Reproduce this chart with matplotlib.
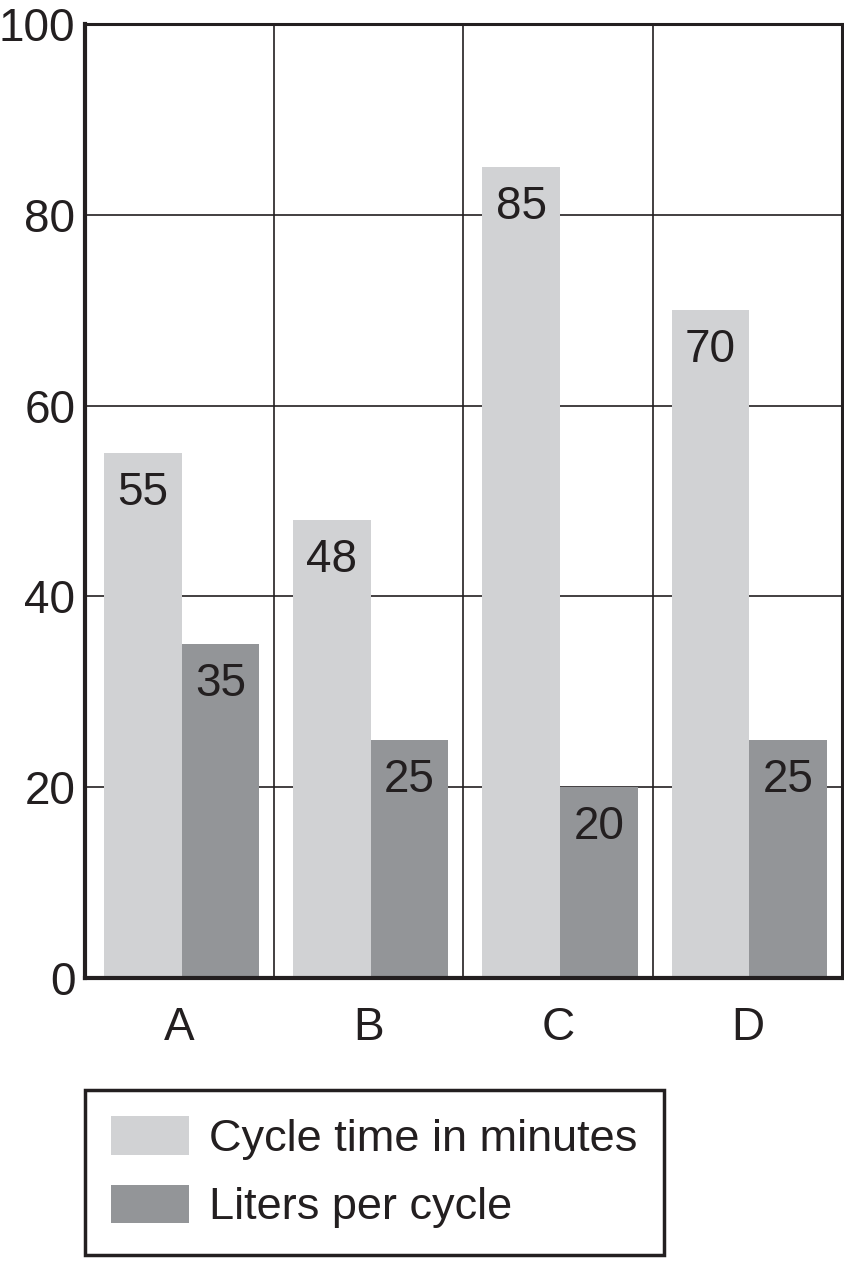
import matplotlib
matplotlib.use("Agg")
import matplotlib.pyplot as plt
import numpy as np

plt.rcParams['font.family'] = ['Liberation Sans', 'DejaVu Sans']

categories = ['A', 'B', 'C', 'D']
cycle_time = [55, 48, 85, 70]
liters = [35, 25, 20, 25]
series_names = ['Cycle time in minutes', 'Liters per cycle']
light = '#d1d2d4'
dark = '#939598'
ink = '#231f20'

fig = plt.figure(figsize=(8.44, 12.61), dpi=100)
ax = fig.add_axes([85/844, 1 - 978/1261, (842 - 85)/844, (978 - 24)/1261])

x = np.arange(len(categories))
w = 0.41
b1 = ax.bar(x - w/2 + 0.01, cycle_time, w, color=light, label=series_names[0], zorder=3)
b2 = ax.bar(x + w/2 + 0.01, liters, w, color=dark, label=series_names[1], zorder=3)

for bars in (b1, b2):
    for r in bars:
        ax.annotate(f"{r.get_height():.0f}", (r.get_x() + r.get_width()/2, r.get_height()),
                    xytext=(0, -13), textcoords='offset points', ha='center', va='top',
                    fontsize=33, color=ink, zorder=4)

ax.set_xlim(-0.5, 3.5)
ax.set_ylim(0, 100)
ax.set_yticks([0, 20, 40, 60, 80, 100])
ax.set_xticks(x)
ax.set_xticklabels(categories)
ax.set_xticks([0.5, 1.5, 2.5], minor=True)
ax.tick_params(axis='both', which='both', length=0, labelsize=33, labelcolor=ink)
ax.tick_params(axis='y', pad=7)
ax.tick_params(axis='x', pad=20)
ax.grid(axis='y', which='major', color=ink, linewidth=1.2, zorder=1)
ax.grid(axis='x', which='minor', color=ink, linewidth=1.2, zorder=1)
ax.set_axisbelow(True)

for side in ['left', 'bottom']:
    ax.spines[side].set_linewidth(3)
for side in ['top', 'right']:
    ax.spines[side].set_linewidth(2.2)
for s in ax.spines.values():
    s.set_color(ink)
    s.set_zorder(5)

leg = fig.legend(handles=[b1, b2], loc='upper left', bbox_to_anchor=(85/844, 1 - 1090/1261),
                 fontsize=32.5, frameon=True, fancybox=False, edgecolor=ink, framealpha=1,
                 handlelength=1.72, handleheight=0.93, handletextpad=0.45,
                 labelspacing=0.55, borderpad=0.58, borderaxespad=0)
leg.get_frame().set_linewidth(2.5)
for t in leg.get_texts():
    t.set_color(ink)

fig.savefig('out.png', dpi=100)
